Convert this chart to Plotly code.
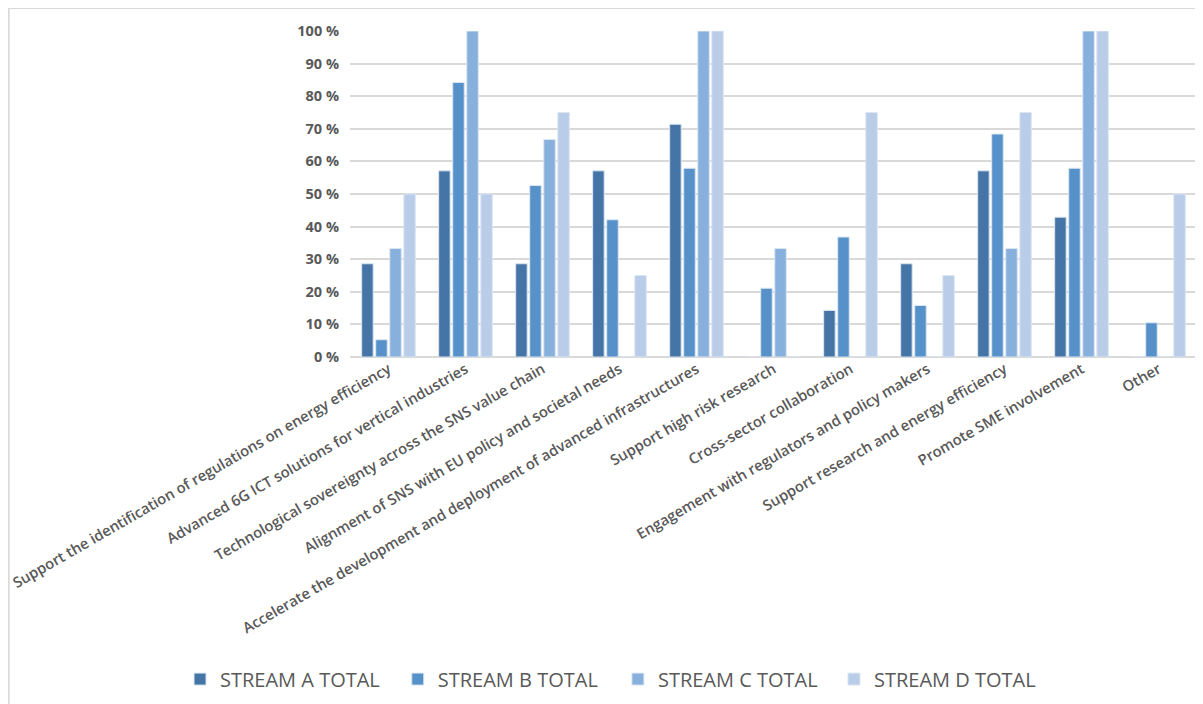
import plotly.graph_objects as go

# Survey priorities per stream, share of respondents (%)
categories = [
    'Support the identification of regulations on energy efficiency',
    'Advanced 6G ICT solutions for vertical industries',
    'Technological sovereignty across the SNS value chain',
    'Alignment of SNS with EU policy and societal needs',
    'Accelerate the development and deployment of advanced infrastructures',
    'Support high risk research',
    'Cross-sector collaboration',
    'Engagement with regulators and policy makers',
    'Support research and energy efficiency',
    'Promote SME involvement',
    'Other',
]
stream_a = [28.6, 57.1, 28.6, 57.1, 71.4, 0, 14.3, 28.6, 57.1, 42.9, 0]
stream_b = [5.3, 84.2, 52.6, 42.1, 57.9, 21.1, 36.8, 15.8, 68.4, 57.9, 10.5]
stream_c = [33.3, 100, 66.7, 0, 100, 33.3, 0, 0, 33.3, 100, 0]
stream_d = [50, 50, 75, 25, 100, 0, 75, 25, 75, 100, 50]

series_names = ['STREAM A TOTAL', 'STREAM B TOTAL', 'STREAM C TOTAL', 'STREAM D TOTAL']
colors = ['#4575a6', '#5692c9', '#87b0dc', '#b9cde9']
legend_ids = ['legend', 'legend2', 'legend3', 'legend4']
legend_x = [0.143, 0.324, 0.507, 0.6866]  # container fractions

grey = '#595959'

fig = go.Figure()
for name, vals, col, lid in zip(series_names, [stream_a, stream_b, stream_c, stream_d], colors, legend_ids):
    fig.add_trace(go.Bar(
        name=name, x=categories, y=vals, legend=lid, showlegend=True,
        marker=dict(color=col, line=dict(color='#dce6f2', width=1)),
    ))

# one legend per series so the row spreads out like the original
legends = {}
for lid, lx in zip(legend_ids, legend_x):
    legends[lid] = dict(
        orientation='h', xref='container', x=lx, xanchor='left',
        y=-0.988, yanchor='middle',
        font=dict(size=20, color=grey), bgcolor='rgba(0,0,0,0)',
    )

fig.update_layout(
    width=1203, height=704,
    paper_bgcolor='white', plot_bgcolor='white',
    margin=dict(l=342, r=14, t=23, b=355, autoexpand=False),
    barmode='group', bargap=0.27, bargroupgap=0.18,
    font=dict(family='Open Sans, Liberation Sans, sans-serif', color=grey),
    shapes=[dict(
        type='rect', xref='paper', yref='paper',
        x0=-0.403, x1=1.03, y0=-1.1, y1=1.0706,
        line=dict(color='#d9d9d9', width=2), layer='below',
    )],
    **legends,
)
fig.update_xaxes(
    tickangle=-30, tickfont=dict(size=14.8, color=grey, weight=600),
    showgrid=False, showline=False, automargin=False, ticks='',
)
fig.update_yaxes(
    range=[0, 100], dtick=10, ticksuffix=' %',
    tickfont=dict(size=14.5, color=grey, weight='bold'),
    showgrid=True, gridcolor='#d9d9d9', gridwidth=1.5,
    zeroline=True, zerolinecolor='#d9d9d9', zerolinewidth=1.5,
    showline=False, automargin=False, ticklabelstandoff=10,
)

fig.write_html('out.html')
